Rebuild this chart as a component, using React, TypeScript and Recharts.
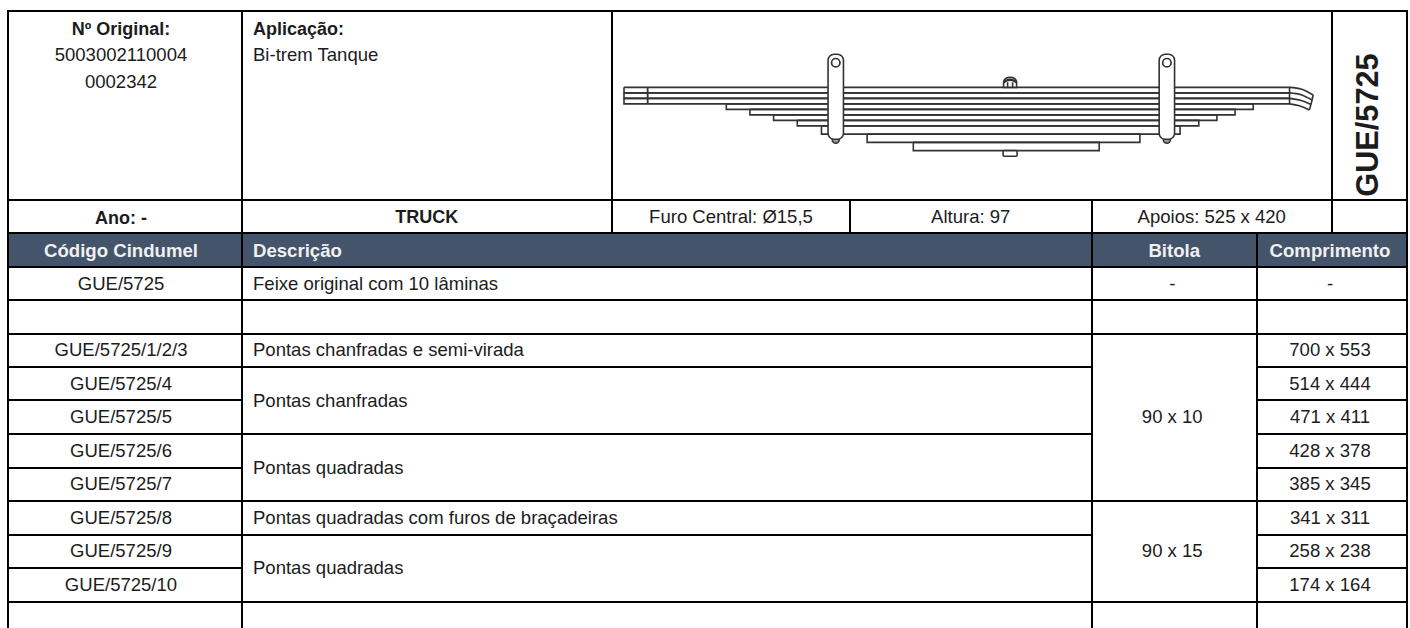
import React from "react";
import { ComposedChart, Line, Scatter, XAxis, YAxis } from "recharts";

// ---- Leaf spring values, all in millimetres
const leafIds = ["1", "2", "3", "4", "5", "6", "7", "8", "9", "10"];
const leafLong = [700, 700, 700, 514, 471, 428, 385, 341, 258, 174];
const leafShort = [553, 553, 553, 444, 411, 378, 345, 311, 238, 164];
const leafThick = [10, 10, 10, 10, 10, 10, 10, 15, 15, 15];
const tailStart = 510;
const leftClip = -657;
const shacklePositions = [-315, 287];
const tails = [
  [[510, 0], [532, 3.5], [553, 14]],
  [[510, 10], [531, 13.5], [551, 23]],
  [[510, 20], [530, 23.5], [549, 31]],
  [[510, 30], [528, 33.5], [546, 41]],
];
const tailEnds = [[553, 14], [551, 23], [549, 31], [546, 41]];

// ---- Table texts
const headerCells = ["Código Cindumel", "Descrição", "Bitola", "Comprimento"];
const codes = ["GUE/5725", "", "GUE/5725/1/2/3", "GUE/5725/4", "GUE/5725/5", "GUE/5725/6", "GUE/5725/7", "GUE/5725/8", "GUE/5725/9", "GUE/5725/10", ""];
const lengths = ["-", "", "700 x 553", "514 x 444", "471 x 411", "428 x 378", "385 x 345", "341 x 311", "258 x 238", "174 x 164", ""];
const descriptions: [number, number, string][] = [
  [0, 0, "Feixe original com 10 lâminas"],
  [1, 1, ""],
  [2, 2, "Pontas chanfradas e semi-virada"],
  [3, 4, "Pontas chanfradas"],
  [5, 6, "Pontas quadradas"],
  [7, 7, "Pontas quadradas com furos de braçadeiras"],
  [8, 9, "Pontas quadradas"],
  [10, 10, ""],
];
const gauges: [number, number, string][] = [
  [0, 0, "-"],
  [1, 1, ""],
  [2, 6, "90 x 10"],
  [7, 9, "90 x 15"],
  [10, 10, ""],
];
const rowLines = [267, 300, 333.5, 367, 400, 434, 467.5, 501, 534.5, 567.5, 601.5, 635];

const X = { a: 8, b: 241.5, c: 612, d: 850, e: 1091.5, f: 1257, g: 1332, h: 1407 };
const INK = "#1c1c1c";

const outline = (left: number, right: number, top: number, thick: number) => [
  { x: -left, y: top },
  { x: right, y: top },
  { x: right, y: top + thick },
  { x: -left, y: top + thick },
  { x: -left, y: top },
];
const tops = leafThick.map((_, i) => leafThick.slice(0, i).reduce((a, b) => a + b, 0));
const totalThick = leafThick.reduce((a, b) => a + b, 0);
const toPts = (p: number[][]) => p.map(([x, y]) => ({ x, y }));
const clipLine = (x: number) => [{ x, y: 0 }, { x, y: 30 }];

const STROKE = "#333";
const SW = 1.6;
const Shackle = (props: any) => {
  const { cx, cy } = props;
  return (
    <g fill="#fff" stroke={STROKE} strokeWidth={SW}>
      <circle cx={cx} cy={cy + 77} r={3.5} fill="#999" />
      <rect x={cx - 7.7} y={cy - 8.5} width={15.4} height={85} rx={6} />
      <circle cx={cx} cy={cy} r={4.2} strokeWidth={1.7} />
    </g>
  );
};
const Nut = (props: any) => {
  const { cx, cy } = props;
  return (
    <g fill="#fff" stroke={STROKE} strokeWidth={SW}>
      <path d={`M${cx - 6.5},${cy} L${cx - 6.5},${cy - 5} Q${cx - 6},${cy - 10} ${cx},${cy - 10} Q${cx + 6},${cy - 10} ${cx + 6.5},${cy - 5} L${cx + 6.5},${cy} Z`} />
      <path d={`M${cx - 6.5},${cy - 5} Q${cx},${cy - 10} ${cx + 6.5},${cy - 5}`} strokeWidth={2.5} fill="none" />
      <path d={`M${cx - 2.5},${cy} L${cx - 2.5},${cy - 5} M${cx + 2.5},${cy} L${cx + 2.5},${cy - 5}`} fill="none" />
    </g>
  );
};
const BoltHead = (props: any) => {
  const { cx, cy } = props;
  return <rect x={cx - 7} y={cy} width={14} height={5.6} rx={1} fill="#fff" stroke={STROKE} strokeWidth={SW} />;
};

const SpringChart = () => (
  <ComposedChart width={718} height={185} data={[]} margin={{ top: 0, right: 0, bottom: 0, left: 0 }}>
    <XAxis type="number" dataKey="x" domain={[-720, 585.4]} hide allowDataOverflow />
    <YAxis type="number" dataKey="y" domain={[-135, 201]} reversed hide allowDataOverflow />
    {leafIds.map((id, i) => (
      <Line
        key={id}
        data={outline(leafLong[i], i < 3 ? tailStart : leafShort[i], tops[i], leafThick[i])}
        dataKey="y"
        stroke={STROKE}
        strokeWidth={SW}
        dot={false}
        isAnimationActive={false}
        legendType="none"
      />
    ))}
    {tails.map((t, i) => (
      <Line key={"t" + i} data={toPts(t)} dataKey="y" type="monotoneX" stroke={STROKE} strokeWidth={SW} dot={false} isAnimationActive={false} />
    ))}
    <Line data={toPts(tailEnds)} dataKey="y" stroke={STROKE} strokeWidth={SW} dot={false} isAnimationActive={false} />
    <Line data={clipLine(leftClip)} dataKey="y" stroke={STROKE} strokeWidth={1.8} dot={false} isAnimationActive={false} />
    <Scatter data={shacklePositions.map((x) => ({ x, y: -44.7 }))} shape={Shackle} isAnimationActive={false} />
    <Scatter data={[{ x: 2, y: 0 }]} shape={Nut} isAnimationActive={false} />
    <Scatter data={[{ x: 2, y: totalThick }]} shape={BoltHead} isAnimationActive={false} />
  </ComposedChart>
);

const LW = 2;
const H = (x1: number, x2: number, y: number, k: string) => (
  <div key={k} style={{ position: "absolute", left: x1 - LW / 2, width: x2 - x1 + LW, top: Math.round(y - LW / 2), height: LW, background: "#000" }} />
);
const V = (x: number, y1: number, y2: number, k: string) => (
  <div key={k} style={{ position: "absolute", left: Math.round(x - LW / 2), width: LW, top: y1 - LW / 2, height: y2 - y1 + LW, background: "#000" }} />
);
const T = (
  text: string,
  x1: number,
  x2: number,
  yc: number,
  k: string,
  opts: { bold?: boolean; left?: boolean; color?: string; size?: number } = {}
) => (
  <div
    key={k}
    style={{
      position: "absolute",
      left: x1,
      width: x2 - x1,
      top: yc - 15,
      height: 30,
      lineHeight: "30px",
      fontSize: opts.size ?? 18.55,
      fontWeight: opts.bold ? 700 : 400,
      textAlign: opts.left ? "left" : "center",
      color: opts.color ?? INK,
      whiteSpace: "nowrap",
    }}
  >
    {text}
  </div>
);
const mid = (a: number, b: number) => (a + b) / 2;
const HEAD = { bold: true, color: "#f0f0f0", size: 18.6 };

export default function App() {
  const r = rowLines;
  const items: React.ReactNode[] = [];
  // header band
  items.push(<div key="band" style={{ position: "absolute", left: X.a, width: X.h - X.a, top: 233, height: 34, background: "#44546a" }} />);
  // texts of the top block
  items.push(T("Nº Original:", 0, 242, 29, "t1", { bold: true, size: 18 }));
  items.push(T("5003002110004", 0, 242, 55, "t2"));
  items.push(T("0002342", 0, 242, 82, "t3"));
  items.push(T("Aplicação:", 253, 600, 29, "t4", { bold: true, left: true, size: 18 }));
  items.push(T("Bi-trem Tanque", 253, 600, 55, "t5", { left: true }));
  items.push(T("Ano: -", 0, 242, 218, "t6", { bold: true, size: 18 }));
  items.push(T("TRUCK", X.b, X.c, 217, "t7", { bold: true, size: 18 }));
  items.push(T("Furo Central: Ø15,5", X.c, X.d, 217, "t8"));
  items.push(T("Altura: 97", X.d, X.e, 217, "t9"));
  items.push(T("Apoios: 525 x 420", X.e, X.g, 217, "t10"));
  items.push(
    <div
      key="code"
      style={{
        position: "absolute",
        left: 1368 - 100,
        top: 125 - 20,
        width: 200,
        height: 40,
        lineHeight: "40px",
        textAlign: "center",
        fontSize: 30.7,
        fontWeight: 700,
        color: INK,
        transform: "rotate(-90deg)",
        whiteSpace: "nowrap",
      }}
    >
      GUE/5725
    </div>
  );
  // header
  items.push(T(headerCells[0], 0, 242, 250.5, "h0", HEAD));
  items.push(T(headerCells[1], 253, 800, 250.5, "h1", { ...HEAD, left: true }));
  items.push(T(headerCells[2], X.e, X.f, 250.5, "h2", HEAD));
  items.push(T(headerCells[3], X.f - 2, X.h - 2, 250.5, "h3", HEAD));
  // row texts
  codes.forEach((c, i) => items.push(T(c, 0, 242, mid(r[i], r[i + 1]), "c" + i)));
  lengths.forEach((c, i) => items.push(T(c, X.f - 2, X.h - 2, mid(r[i], r[i + 1]), "l" + i)));
  descriptions.forEach(([a, b, t], i) => items.push(T(t, 253, 1080, mid(r[a], r[b + 1]), "d" + i, { left: true })));
  gauges.forEach(([a, b, t], i) => items.push(T(t, X.e - 2, X.f - 2, mid(r[a], r[b + 1]), "g" + i)));
  // rule lines
  items.push(H(X.a, X.h, 11, "hTop"));
  items.push(H(X.a, X.h, 200, "h200"));
  items.push(H(X.a, X.h, 233, "h233"));
  items.push(H(X.a, X.h, 267, "h267"));
  codes.forEach((_, i) => {
    if (i > 0 && r[i] < 628) items.push(H(X.a, X.b, r[i], "hc" + i));
    if (i > 0 && r[i] < 628) items.push(H(X.f, X.h, r[i], "hl" + i));
  });
  descriptions.forEach(([a], i) => { if (a > 0) items.push(H(X.b, X.e, r[a], "hd" + i)); });
  gauges.forEach(([a], i) => { if (a > 0) items.push(H(X.e, X.f, r[a], "hg" + i)); });
  items.push(V(X.a, 11, 628, "vA"));
  items.push(V(X.h, 11, 628, "vH"));
  items.push(V(X.b, 11, 628, "vB"));
  items.push(V(X.c, 11, 233, "vC"));
  items.push(V(X.d, 200, 233, "vD"));
  items.push(V(X.e, 200, 628, "vE"));
  items.push(V(X.g, 11, 233, "vG"));
  items.push(V(X.f, 233, 628, "vF"));

  return (
    <div
      style={{
        position: "absolute",
        left: 0,
        top: 0,
        width: 1410,
        height: 628,
        overflow: "hidden",
        background: "#fff",
        fontFamily: '"Liberation Sans", Arial, sans-serif',
      }}
    >
      {items}
      <div style={{ position: "absolute", left: 613, top: 13 }}>
        <SpringChart />
      </div>
    </div>
  );
}
